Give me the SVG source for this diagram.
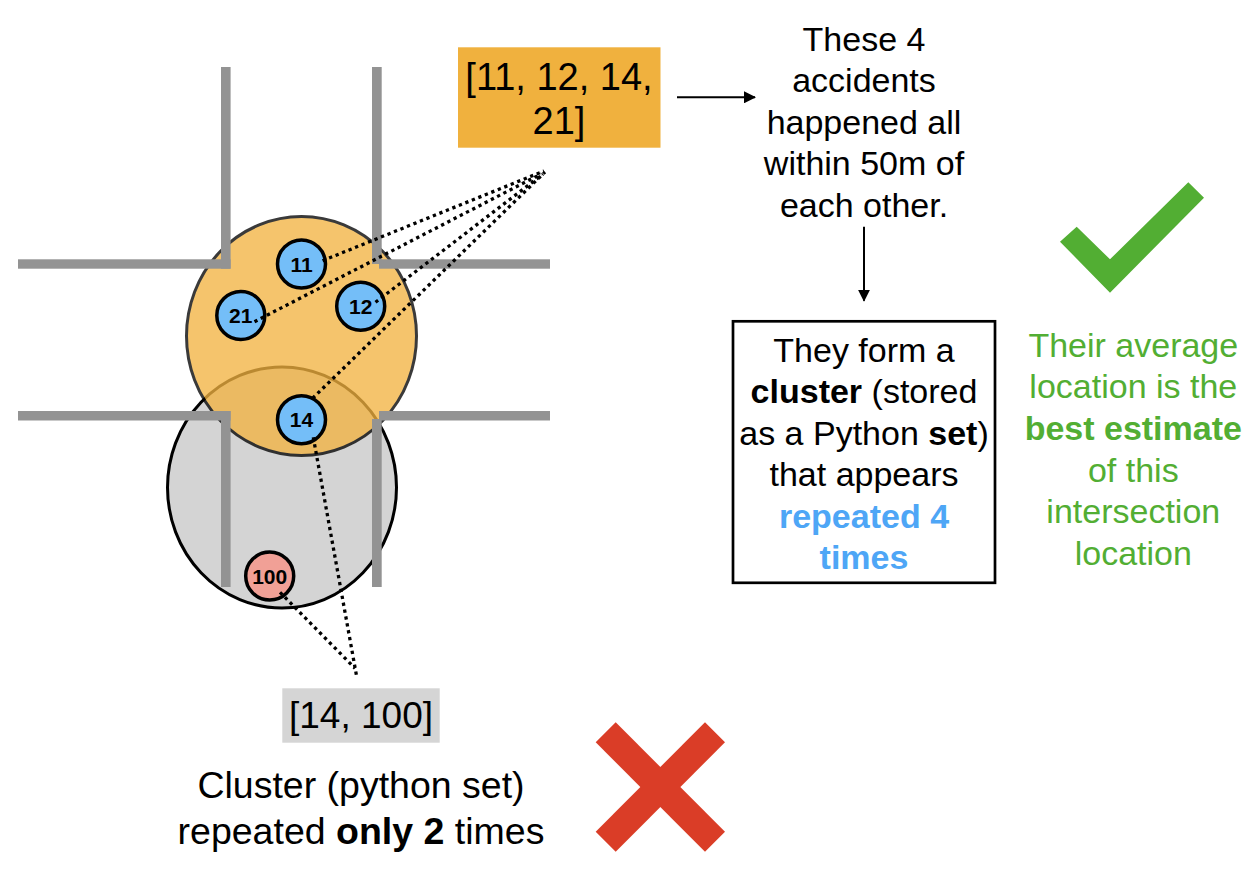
<svg xmlns="http://www.w3.org/2000/svg" width="1258" height="880" viewBox="0 0 1258 880">
<defs>
<style>
text{font-family:"Liberation Sans",Arial,Helvetica,sans-serif;fill:#000;text-anchor:middle}
.road{fill:#939393}
.acc{stroke:#000;stroke-width:3.5}
.blue{fill:#74BEF8}
.lbl{font-size:21px;font-weight:bold}
.t34{font-size:34px}
.b{font-weight:bold}
.dot{fill:none;stroke:#000;stroke-width:3.3;stroke-dasharray:3.3 3.7}
.arr{fill:none;stroke:#000;stroke-width:2}
</style>
<marker id="ah" markerWidth="12" markerHeight="12" refX="11" refY="6" orient="auto" markerUnits="userSpaceOnUse">
<path d="M0,0 L12,6 L0,12 Z" fill="#000"/>
</marker>
</defs>
<rect width="1258" height="880" fill="#fff"/>

<g id="clusters">
<ellipse id="cluster-gray" cx="282" cy="487.5" rx="114.5" ry="120.5" fill="#D4D4D4" stroke="#000" stroke-width="3"/>
<ellipse id="cluster-orange" cx="301.5" cy="336" rx="115" ry="119.5" fill="#F3B340" stroke="#000" stroke-width="3" opacity="0.77"/>
</g>

<g id="roads">
<rect class="road" x="221" y="67" width="9.6" height="201.7"/>
<rect class="road" x="18" y="259.3" width="212.6" height="9.4"/>
<rect class="road" x="372" y="67" width="9.7" height="197"/>
<rect class="road" x="379" y="259.3" width="171" height="9.4"/>
<rect class="road" x="18" y="411" width="212.6" height="9.5"/>
<rect class="road" x="221" y="411" width="9.6" height="176"/>
<rect class="road" x="379" y="411" width="171" height="9.5"/>
<rect class="road" x="372" y="419" width="9.7" height="168"/>
</g>

<g id="node-11"><circle class="acc blue" cx="301.5" cy="264" r="24"/><text class="lbl" x="301.5" y="271.5">11</text></g>
<g id="node-21"><circle class="acc blue" cx="240.8" cy="315.5" r="24"/><text class="lbl" x="240.8" y="323">21</text></g>
<g id="node-12"><circle class="acc blue" cx="360.7" cy="306.3" r="24"/><text class="lbl" x="360.7" y="313.8">12</text></g>
<g id="node-14"><circle class="acc blue" cx="301.5" cy="419.7" r="24"/><text class="lbl" x="301.5" y="427.2">14</text></g>
<g id="node-100"><circle class="acc" fill="#F1A096" cx="269.7" cy="576" r="24"/><text class="lbl" x="269.7" y="583.5" font-size="20">100</text></g>

<g id="box-main">
<rect x="458" y="47.3" width="202.5" height="100.4" fill="#F0B13E"/>
<text font-size="38" x="559" y="90">[11, 12, 14,</text>
<text font-size="38" x="559" y="133.5">21]</text>
</g>

<g id="text-desc">
<text class="t34" x="864" y="50.7">These 4</text>
<text class="t34" x="864" y="92.2">accidents</text>
<text class="t34" x="864" y="133.7">happened all</text>
<text class="t34" x="864" y="175.2">within 50m of</text>
<text class="t34" x="864" y="216.7">each other.</text>
</g>

<g id="box-cluster">
<rect x="733" y="321.3" width="262" height="261.5" fill="#fff" stroke="#000" stroke-width="2.7"/>
<text class="t34" x="864" y="361.5">They form a</text>
<text class="t34" x="864" y="403"><tspan class="b">cluster</tspan> (stored</text>
<text class="t34" x="864" y="444.5">as a Python <tspan class="b">set</tspan>)</text>
<text class="t34" x="864" y="486">that appears</text>
<text class="t34 b" x="864" y="527.5" style="fill:#4EA6F6">repeated 4</text>
<text class="t34 b" x="864" y="569" style="fill:#4EA6F6">times</text>
</g>

<g id="check">
<polygon points="1060,241.7 1076.7,226.7 1110,259.3 1188.3,182.3 1204,197.7 1110,292.7" fill="#52AE33"/>
</g>

<g id="text-green">
<text class="t34" x="1133.3" y="356.7" style="fill:#52AE33">Their average</text>
<text class="t34" x="1133.3" y="398.3" style="fill:#52AE33">location is the</text>
<text class="t34 b" x="1133.3" y="440" style="fill:#52AE33">best estimate</text>
<text class="t34" x="1133.3" y="481.7" style="fill:#52AE33">of this</text>
<text class="t34" x="1133.3" y="523.3" style="fill:#52AE33">intersection</text>
<text class="t34" x="1133.3" y="565" style="fill:#52AE33">location</text>
</g>

<g id="box-small">
<rect x="282.3" y="688.3" width="157.4" height="54.4" fill="#D5D5D5"/>
<text font-size="37" x="361" y="728.3">[14, 100]</text>
</g>

<g id="text-bottom">
<text font-size="37.5" x="361" y="798.3">Cluster (python set)</text>
<text font-size="37.5" x="361" y="843.5">repeated <tspan class="b">only 2</tspan> times</text>
</g>

<g id="cross">
<line x1="605.7" y1="732.3" x2="715" y2="841.7" stroke="#DA3D27" stroke-width="28.3"/>
<line x1="715" y1="732.3" x2="605.7" y2="841.7" stroke="#DA3D27" stroke-width="28.3"/>
</g>

<g id="connectors">
<line class="dot" x1="322.6" y1="260.7" x2="544" y2="171"/>
<line class="dot" x1="254.5" y1="321.7" x2="541" y2="174"/>
<line class="dot" x1="375.5" y1="302.3" x2="543" y2="174"/>
<line class="dot" x1="312.6" y1="398.3" x2="545" y2="172"/>
<line class="dot" x1="313.3" y1="437.3" x2="356.7" y2="676.7"/>
<line class="dot" x1="280" y1="592.3" x2="355" y2="668.3"/>
<line class="arr" x1="677" y1="97.3" x2="755" y2="97.3" marker-end="url(#ah)"/>
<line class="arr" x1="864" y1="226.7" x2="864" y2="300.7" marker-end="url(#ah)"/>
</g>
</svg>
